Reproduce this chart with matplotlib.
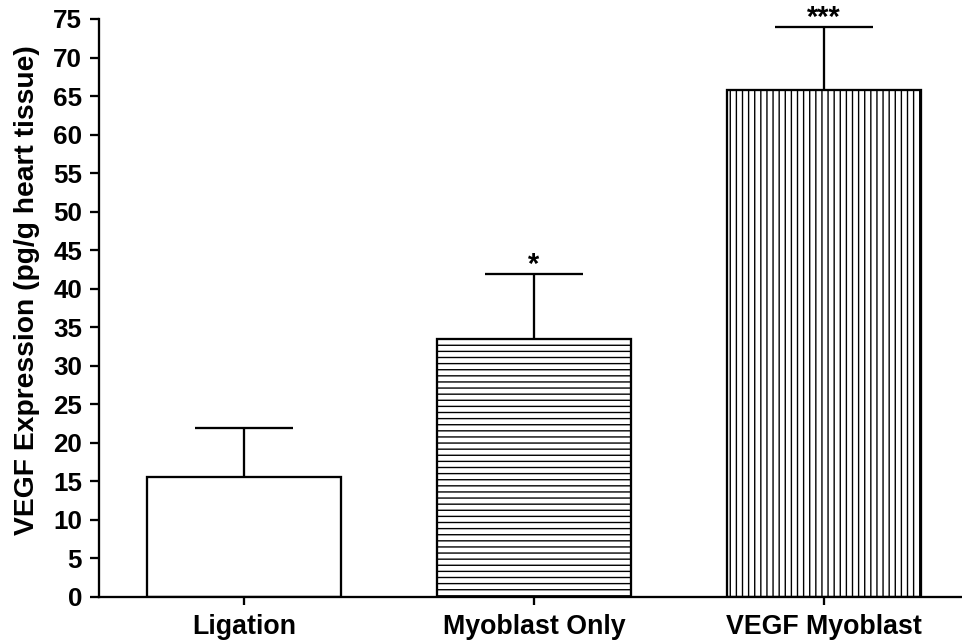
import matplotlib
matplotlib.use("Agg")
import matplotlib.pyplot as plt

# values
groups = ["Ligation", "Myoblast Only", "VEGF Myoblast"]
vegf = [15.6, 33.5, 65.8]
sem = [6.3, 8.4, 8.1]
hatches = ["", "---", "|||"]
stars = ["", "*", "***"]
yticks = list(range(0, 80, 5))

DPI = 110
plt.rcParams["font.family"] = ["Liberation Sans", "DejaVu Sans"]
plt.rcParams["font.weight"] = "bold"
plt.rcParams["hatch.linewidth"] = 0.9
plt.rcParams["hatch.color"] = "#333333"

fig = plt.figure(figsize=(963 / DPI, 642 / DPI), dpi=DPI)
ax = fig.add_axes([99 / 963, 45 / 642, 1 - 99 / 963, (597 - 19) / 642])

x = list(range(len(groups)))
bars = ax.bar(x, vegf, width=0.67, color="white", edgecolor="black",
              linewidth=1.5, zorder=2)
for b, h in zip(bars, hatches):
    b.set_hatch(h)

# only the upper half of the error bar is drawn
eb = ax.errorbar(x, vegf, yerr=[[0] * len(sem), sem], fmt="none", ecolor="black",
                 elinewidth=1.5, capsize=32, capthick=1.5, zorder=3)
eb[1][0].set_visible(False)

for xi, v, e, s in zip(x, vegf, sem, stars):
    if s:
        ax.text(xi, v + e + 0.2, s, ha="center", va="baseline",
                fontsize=19, fontweight="bold")

ax.set_xlim(-0.5, 2.48)
ax.set_ylim(0, 75)
ax.set_yticks(yticks)
ax.set_xticks(x)
ax.set_xticklabels(groups, fontsize=17.5, fontweight="bold")
ax.tick_params(axis="y", labelsize=17, length=6, width=1.5, direction="out", pad=5)
ax.tick_params(axis="x", length=5, width=1.5, direction="out", pad=6)
for lab in ax.get_yticklabels():
    lab.set_fontweight("bold")

ax.set_ylabel("VEGF Expression (pg/g heart tissue)", fontsize=18.5,
              fontweight="bold")
ax.yaxis.set_label_coords(-0.068, 0.531)

ax.spines["top"].set_visible(False)
ax.spines["right"].set_visible(False)
ax.spines["left"].set_linewidth(1.5)
ax.spines["bottom"].set_linewidth(1.5)

fig.savefig("out.png", dpi=DPI)
